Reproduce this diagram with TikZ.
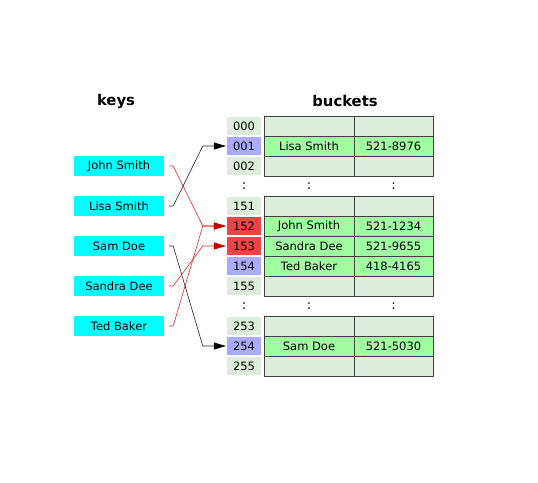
\documentclass[tikz,border=0pt]{standalone}
\usepackage{fontspec}
\setmainfont{DejaVu Sans}
\usetikzlibrary{arrows.meta,calc}
\definecolor{keycyan}{RGB}{0,255,255}
\definecolor{cellpale}{RGB}{221,238,221}
\definecolor{cellgreen}{RGB}{160,255,160}
\definecolor{idxblue}{RGB}{170,170,255}
\definecolor{idxred}{RGB}{238,68,68}
\definecolor{linered}{RGB}{230,40,40}
\definecolor{tipred}{RGB}{200,0,0}
\definecolor{gridgray}{RGB}{64,64,64}
\begin{document}
\begin{tikzpicture}[x=1pt,y=-1pt,
 every node/.style={font=\fontsize{11.5}{13}\selectfont, inner sep=0pt},
 keybox/.style={fill=keycyan, minimum width=90pt, minimum height=19.5pt},
 idxbox/.style={fill=cellpale, minimum width=34pt, minimum height=18.5pt},
 bluebox/.style={idxbox, fill=idxblue},
 redbox/.style={idxbox, fill=idxred},
 cellbox/.style={draw=gridgray, line width=0.8pt, fill=cellpale, minimum height=20pt},
 namecell/.style={cellbox, minimum width=90pt},
 numcell/.style={cellbox, minimum width=79pt},
 full/.style={fill=cellgreen},
 header/.style={font=\fontsize{14.8}{17}\selectfont\bfseries},
 dotmark/.style={font=\fontsize{13}{15}\selectfont},
 linkred/.style={draw=linered, line width=0.6pt, -{Triangle[length=12pt,width=7pt,color=tipred]}},
 linkblack/.style={draw=black!85, line width=0.6pt, -{Triangle[length=12pt,width=7pt,color=black]}}
]
\useasboundingbox[fill=white] (0,0) rectangle (538,482);

% headers
\node[header] (hkeys) at (116,101) {keys};
\node[header] (hbuckets) at (345,101) {buckets};

% keys
\node[keybox] (kjohn)   at (119,166) {John Smith};
\node[keybox] (klisa)   at (119,206) {Lisa Smith};
\node[keybox] (ksam)    at (119,246) {Sam Doe};
\node[keybox] (ksandra) at (119,286) {Sandra Dee};
\node[keybox] (kted)    at (119,326) {Ted Baker};

% index column
\node[idxbox]  (i000) at (244,126) {000};
\node[bluebox] (i001) at (244,146) {001};
\node[idxbox]  (i002) at (244,166) {002};
\node[dotmark] (d1a)  at (244,186) {:};
\node[idxbox]  (i151) at (244,206) {151};
\node[redbox]  (i152) at (244,226) {152};
\node[redbox]  (i153) at (244,246) {153};
\node[bluebox] (i154) at (244,266) {154};
\node[idxbox]  (i155) at (244,286) {155};
\node[dotmark] (d2a)  at (244,306) {:};
\node[idxbox]  (i253) at (244,326) {253};
\node[bluebox] (i254) at (244,346) {254};
\node[idxbox]  (i255) at (244,366) {255};

% bucket table, block 1
\node[namecell]      (n000) at (309,126) {};
\node[numcell]       (p000) at (393.5,126) {};
\node[namecell,full] (n001) at (309,146) {Lisa Smith};
\node[numcell,full]  (p001) at (393.5,146) {521-8976};
\node[namecell]      (n002) at (309,166) {};
\node[numcell]       (p002) at (393.5,166) {};
\node[dotmark] (d1b) at (309,186) {:};
\node[dotmark] (d1c) at (393.5,186) {:};

% block 2
\node[namecell]      (n151) at (309,206) {};
\node[numcell]       (p151) at (393.5,206) {};
\node[namecell,full] (n152) at (309,226) {John Smith};
\node[numcell,full]  (p152) at (393.5,226) {521-1234};
\node[namecell,full] (n153) at (309,246) {Sandra Dee};
\node[numcell,full]  (p153) at (393.5,246) {521-9655};
\node[namecell,full] (n154) at (309,266) {Ted Baker};
\node[numcell,full]  (p154) at (393.5,266) {418-4165};
\node[namecell]      (n155) at (309,286) {};
\node[numcell]       (p155) at (393.5,286) {};
\node[dotmark] (d2b) at (309,306) {:};
\node[dotmark] (d2c) at (393.5,306) {:};

% block 3
\node[namecell]      (n253) at (309,326) {};
\node[numcell]       (p253) at (393.5,326) {};
\node[namecell,full] (n254) at (309,346) {Sam Doe};
\node[numcell,full]  (p254) at (393.5,346) {521-5030};
\node[namecell]      (n255) at (309,366) {};
\node[numcell]       (p255) at (393.5,366) {};

% connectors
\draw[linkred]   ($(kjohn.east)+(5,0)$)   -- ++(4,0) -- ($(i152.west)+(-24,0)$) -- ([xshift=-1pt]i152.west);
\draw[linkblack] ($(klisa.east)+(5,0)$)   -- ++(4,0) -- ($(i001.west)+(-24,0)$) -- ([xshift=-1pt]i001.west);
\draw[linkblack] ($(ksam.east)+(5,0)$)    -- ++(4,0) -- ($(i254.west)+(-24,0)$) -- ([xshift=-1pt]i254.west);
\draw[linkred]   ($(ksandra.east)+(5,0)$) -- ++(4,0) -- ($(i153.west)+(-24,0)$) -- ([xshift=-1pt]i153.west);
\draw[linkred]   ($(kted.east)+(5,0)$)    -- ++(4,0) -- ($(i152.west)+(-24,0)$) -- ([xshift=-1pt]i152.west);
\end{tikzpicture}
\end{document}
